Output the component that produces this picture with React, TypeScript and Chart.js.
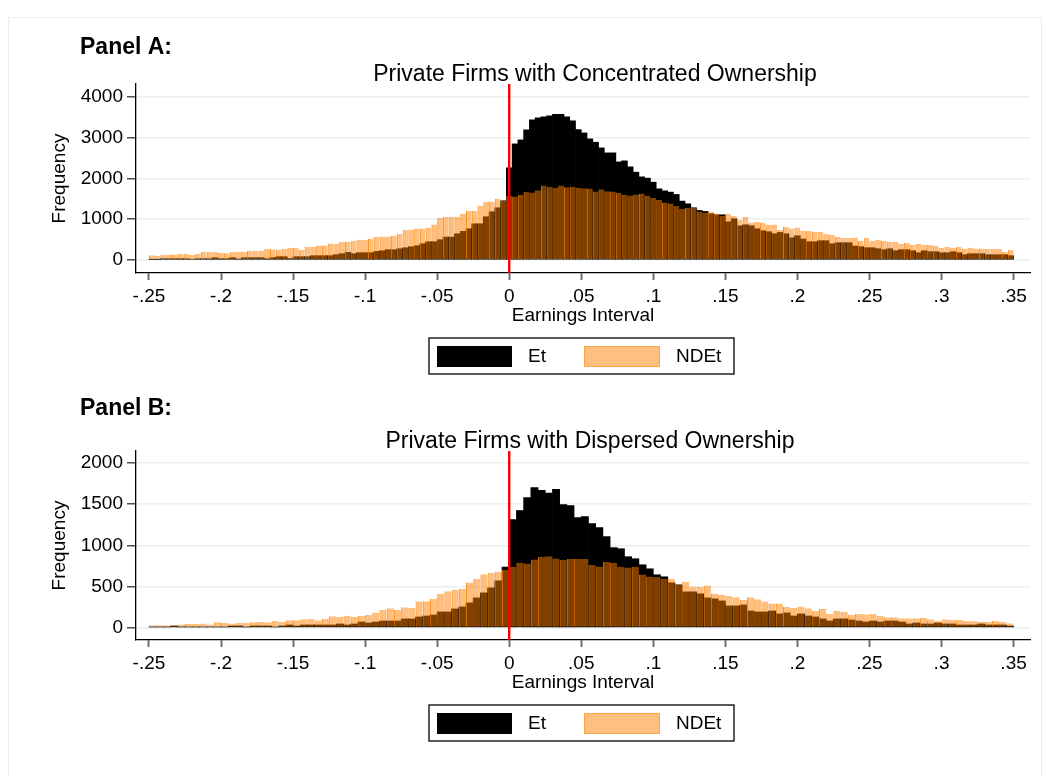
import React, { useEffect, useRef } from "react";
import { Chart, registerables } from "chart.js";

Chart.register(...registerables);

// ---------------- DATA ----------------
const seriesLabels = ["Et", "NDEt"];

// Panel A: 150 bins of width 0.004 starting at -0.25
const binStartA = -0.25;
const binWidthA = 0.004;
const etA = [
  16, 16, 33, 33, 33, 33, 33, 20, 33, 33, 33, 57, 33, 33, 57, 25, 57, 57, 57, 57,
  33, 57, 81, 81, 40, 81, 81, 81, 106, 106, 106, 106, 130, 155, 187, 155, 179, 179, 179, 212,
  228, 253, 253, 277, 301, 326, 350, 399, 448, 448, 497, 562, 562, 644, 701, 766, 888, 888, 1060, 1182,
  1280, 1451, 2258, 2844, 2942, 3187, 3431, 3480, 3505, 3529, 3570, 3570, 3505, 3407, 3195, 3113, 2967, 2885, 2747, 2624,
  2624, 2404, 2429, 2282, 2152, 2037, 2005, 1907, 1744, 1695, 1663, 1606, 1443, 1377, 1280, 1214, 1190, 1133, 1108, 1108,
  937, 1011, 839, 864, 839, 766, 717, 693, 644, 676, 644, 546, 595, 513, 448, 448, 473, 473, 399, 424,
  424, 424, 342, 326, 301, 301, 277, 253, 277, 228, 253, 253, 228, 179, 228, 204, 204, 179, 179, 204,
  179, 130, 155, 155, 155, 130, 130, 130, 130, 106,
];
const ndetA = [
  114, 106, 130, 130, 138, 147, 147, 130, 155, 196, 196, 196, 179, 163, 196, 204, 204, 228, 228, 228,
  277, 261, 244, 277, 301, 301, 253, 326, 326, 358, 358, 407, 391, 440, 448, 473, 497, 497, 521, 570,
  578, 578, 595, 644, 742, 742, 774, 774, 799, 872, 1027, 1051, 1060, 1060, 1141, 1206, 1206, 1337, 1426, 1434,
  1500, 1451, 1573, 1557, 1597, 1671, 1655, 1711, 1826, 1793, 1769, 1826, 1785, 1793, 1769, 1760, 1752, 1679, 1736, 1687,
  1679, 1646, 1597, 1581, 1606, 1630, 1573, 1516, 1467, 1410, 1385, 1320, 1255, 1280, 1280, 1190, 1165, 1182, 1141, 1076,
  1125, 1076, 986, 1051, 921, 937, 921, 864, 872, 742, 815, 774, 799, 717, 709, 693, 693, 636, 611, 562,
  546, 538, 554, 473, 538, 473, 497, 473, 448, 448, 399, 416, 375, 399, 367, 367, 350, 301, 318, 301,
  318, 269, 301, 285, 285, 269, 269, 269, 196, 244,
];

// Panel B: 120 bins of width 0.005 starting at -0.25
const binStartB = -0.25;
const binWidthB = 0.005;
const etB = [
  8, 8, 8, 20, 8, 8, 8, 8, 8, 8, 8, 20, 20, 8, 20, 20, 20, 8, 20, 33,
  20, 33, 33, 33, 33, 33, 45, 33, 45, 69, 57, 69, 81, 81, 81, 106, 106, 130, 142, 154,
  191, 191, 228, 252, 301, 362, 423, 484, 569, 736, 1313, 1423, 1581, 1703, 1667, 1634, 1679, 1496, 1484, 1337,
  1350, 1264, 1215, 1106, 972, 959, 862, 837, 764, 715, 642, 618, 545, 520, 435, 435, 411, 362, 350, 325,
  264, 264, 276, 203, 191, 191, 203, 167, 179, 142, 167, 142, 130, 106, 81, 106, 106, 93, 81, 69,
  81, 69, 81, 81, 69, 45, 57, 45, 45, 57, 45, 45, 33, 33, 33, 45, 33, 33, 33, 20,
];
const ndetB = [
  28, 28, 28, 28, 37, 45, 45, 49, 37, 65, 57, 49, 61, 57, 65, 69, 65, 81, 73, 89,
  89, 102, 106, 89, 106, 138, 130, 146, 130, 142, 154, 183, 215, 236, 215, 248, 240, 321, 321, 350,
  411, 443, 459, 472, 549, 593, 650, 667, 679, 703, 740, 789, 780, 829, 862, 866, 841, 825, 833, 837,
  837, 760, 744, 797, 789, 740, 732, 740, 646, 622, 614, 593, 593, 520, 557, 496, 496, 512, 411, 398,
  386, 370, 337, 370, 346, 317, 293, 293, 252, 240, 256, 236, 203, 228, 167, 203, 191, 154, 167, 163,
  167, 142, 126, 126, 114, 114, 114, 118, 102, 81, 102, 93, 93, 81, 81, 73, 73, 81, 69, 53,
];

const xTickValues = [-0.25, -0.2, -0.15, -0.1, -0.05, 0, 0.05, 0.1, 0.15, 0.2, 0.25, 0.3, 0.35];
const xTickLabels = ["-.25", "-.2", "-.15", "-.1", "-.05", "0", ".05", ".1", ".15", ".2", ".25", ".3", ".35"];
const yTicksA = [0, 1000, 2000, 3000, 4000];
const yTicksB = [0, 500, 1000, 1500, 2000];

const FONT = "'Liberation Sans', Arial, Helvetica, sans-serif";
const ET_COLOR = "#000000";
const NDET_COLOR = "rgba(255,128,0,0.5)";
const NDET_EDGE = "rgba(255,128,0,0.85)";

function centers(start: number, width: number, n: number) {
  const out: number[] = [];
  for (let i = 0; i < n; i++) out.push(Math.round((start + width * (i + 0.5)) * 1e6) / 1e6);
  return out;
}

const decorPlugin = {
  id: "decor",
  afterDatasetsDraw(chart: any) {
    const { ctx, chartArea, scales } = chart;
    const px = scales.x.getPixelForValue(0);
    ctx.save();
    ctx.strokeStyle = "#ff0000";
    ctx.lineWidth = 2.4;
    ctx.beginPath();
    ctx.moveTo(px, chartArea.top);
    ctx.lineTo(px, chartArea.bottom);
    ctx.stroke();
    ctx.restore();
  },
  afterDraw(chart: any, _args: any, o: any) {
    const { ctx } = chart;
    ctx.save();
    ctx.fillStyle = "#000";
    ctx.textBaseline = "alphabetic";
    ctx.font = `bold 23px ${FONT}`;
    ctx.textAlign = "left";
    ctx.fillText(o.panel, 80, o.panelY);
    ctx.font = `23px ${FONT}`;
    ctx.textAlign = "center";
    ctx.fillText(o.title, o.titleX, 81);

    // legend
    const ds = chart.data.datasets;
    const lx = 429, ly = 338, lw = 305, lh = 36;
    ctx.fillStyle = "#fff";
    ctx.fillRect(lx, ly, lw, lh);
    ctx.strokeStyle = "#000";
    ctx.lineWidth = 1.3;
    ctx.strokeRect(lx, ly, lw, lh);
    ctx.font = `19px ${FONT}`;
    ctx.textAlign = "left";
    ctx.textBaseline = "middle";
    // Et
    ctx.fillStyle = ds[1].backgroundColor;
    ctx.fillRect(437, 346, 75, 21);
    ctx.fillStyle = "#000";
    ctx.fillText(ds[1].label, 528, 357);
    // NDEt
    ctx.fillStyle = ds[0].backgroundColor;
    ctx.fillRect(584, 346, 76, 21);
    ctx.strokeStyle = "rgba(255,128,0,0.45)";
    ctx.lineWidth = 1;
    ctx.strokeRect(584.5, 346.5, 75, 20);
    ctx.fillStyle = "#000";
    ctx.fillText(ds[0].label, 676, 357);
    ctx.restore();
  },
};

function buildConfig(
  et: number[],
  ndet: number[],
  start: number,
  width: number,
  yMin: number,
  yMax: number,
  yTicks: number[],
  canvasH: number,
  decor: any
) {
  const xs = centers(start, width, et.length);
  return {
    type: "bar",
    data: {
      datasets: [
        {
          label: seriesLabels[1],
          data: xs.map((x, i) => ({ x, y: ndet[i] })),
          backgroundColor: NDET_COLOR,
          borderColor: NDET_EDGE,
          borderWidth: { left: 1, right: 0, top: 0, bottom: 0 },
          borderSkipped: false,
          inflateAmount: 0,
          grouped: false,
          barPercentage: 1,
          categoryPercentage: 1,
          order: 0,
        },
        {
          label: seriesLabels[0],
          data: xs.map((x, i) => ({ x, y: et[i] })),
          backgroundColor: ET_COLOR,
          borderWidth: 0,
          grouped: false,
          barPercentage: 1,
          categoryPercentage: 1,
          order: 1,
        },
      ],
    },
    options: {
      responsive: false,
      animation: false,
      events: [],
      layout: { padding: { left: 0, top: 84, right: 20, bottom: canvasH - 273 - 60 } },
      plugins: {
        legend: { display: false },
        tooltip: { enabled: false },
        decor,
      },
      scales: {
        x: {
          type: "linear",
          min: -0.259,
          max: 0.3614,
          offset: false,
          afterBuildTicks: (s: any) => {
            s.ticks = xTickValues.map((v) => ({ value: v }));
          },
          afterFit: (s: any) => {
            s.height = 60;
          },
          grid: {
            display: true,
            drawOnChartArea: false,
            drawTicks: true,
            tickLength: 7,
            tickColor: "#707070",
            tickWidth: 2,
            offset: false,
          },
          border: { display: true, color: "#000", width: 1.3 },
          ticks: {
            font: { size: 19, family: FONT },
            color: "#000",
            padding: 5,
            maxRotation: 0,
            autoSkip: false,
            callback: (_v: any, i: number) => xTickLabels[i],
          },
          title: {
            display: true,
            text: "Earnings Interval",
            font: { size: 19, family: FONT },
            color: "#000",
            padding: { top: 0, bottom: 6 },
          },
        },
        y: {
          type: "linear",
          min: yMin,
          max: yMax,
          afterBuildTicks: (s: any) => {
            s.ticks = yTicks.map((v) => ({ value: v }));
          },
          afterFit: (s: any) => {
            s.width = 136;
          },
          grid: {
            color: "#e9f0f2",
            lineWidth: 1.6,
            drawTicks: true,
            tickLength: 9,
            tickColor: "#222",
            tickWidth: 1.2,
          },
          border: { display: true, color: "#000", width: 1.3 },
          ticks: {
            font: { size: 19, family: FONT },
            color: "#000",
            padding: 4,
            callback: (v: any) => String(v),
          },
          title: {
            display: true,
            text: "Frequency",
            font: { size: 19, family: FONT },
            color: "#000",
            padding: { top: 48, bottom: 0 },
          },
        },
      },
    },
    plugins: [decorPlugin],
  };
}

function Panel(props: { top: number; height: number; config: any }) {
  const ref = useRef<HTMLCanvasElement | null>(null);
  useEffect(() => {
    if (!ref.current) return;
    const chart = new Chart(ref.current, props.config);
    return () => chart.destroy();
  }, []);
  return (
    <canvas
      ref={ref}
      width={1050}
      height={props.height}
      style={{ position: "absolute", left: 0, top: props.top, width: 1050, height: props.height }}
    />
  );
}

export default function App() {
  const configA = buildConfig(etA, ndetA, binStartA, binWidthA, -318, 4311, yTicksA, 388, {
    panel: "Panel A:",
    panelY: 54,
    title: "Private Firms with Concentrated Ownership",
    titleX: 595,
  });
  const configB = buildConfig(etB, ndetB, binStartB, binWidthB, -150, 2146, yTicksB, 409, {
    panel: "Panel B:",
    panelY: 48,
    title: "Private Firms with Dispersed Ownership",
    titleX: 590,
  });
  return (
    <div
      style={{
        position: "absolute",
        left: 0,
        top: 0,
        width: 1050,
        height: 776,
        background: "#fff",
        overflow: "hidden",
      }}
    >
      <div
        style={{
          position: "absolute",
          left: 8,
          top: 17,
          width: 1032,
          height: 800,
          border: "1.5px solid #e8eeee",
        }}
      />
      <Panel top={0} height={388} config={configA} />
      <Panel top={367} height={409} config={configB} />
    </div>
  );
}
